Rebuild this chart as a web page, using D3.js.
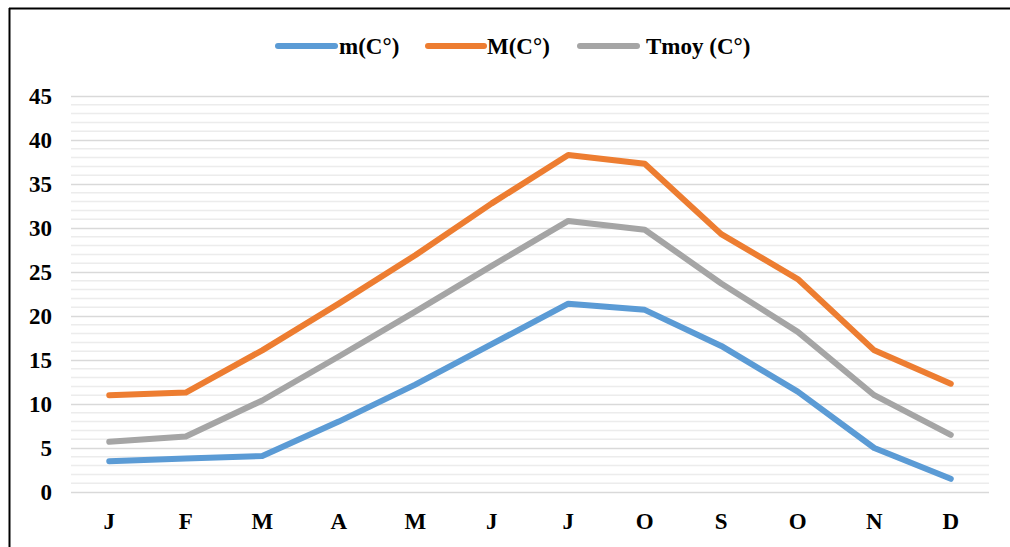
<!DOCTYPE html>
<html>
<head>
<meta charset="utf-8">
<script src="https://cdn.jsdelivr.net/npm/d3@7"></script>
<style>
  html, body { margin: 0; padding: 0; background: #fff; }
  svg { display: block; }
  text { font-family: "Liberation Serif", "Times New Roman", serif; font-weight: bold; fill: #000; }
</style>
</head>
<body>
<svg id="chart" width="1010" height="547"></svg>
<script>
// Months (French initials)
const months = ["J", "F", "M", "A", "M", "J", "J", "O", "S", "O", "N", "D"];

// Monthly temperatures (°C)
const tMin  = [3.5, 3.8, 4.1, 8.0, 12.2, 16.8, 21.4, 20.7, 16.6, 11.4, 5.0, 1.5];
const tMax  = [11.0, 11.3, 16.1, 21.4, 26.9, 32.8, 38.3, 37.3, 29.3, 24.2, 16.1, 12.3];
const tMoy  = [5.7, 6.3, 10.4, 15.4, 20.5, 25.7, 30.8, 29.8, 23.7, 18.2, 11.0, 6.5];

const seriesNames  = ["m(C°)", "M(C°)", "Tmoy (C°)"];
const seriesColors = ["#5B9BD5", "#ED7D31", "#A5A5A5"];
const yTicks = [0, 5, 10, 15, 20, 25, 30, 35, 40, 45];

const series = [
  { name: seriesNames[0], color: seriesColors[0], values: tMin },
  { name: seriesNames[1], color: seriesColors[1], values: tMax },
  { name: seriesNames[2], color: seriesColors[2], values: tMoy }
];

const svg = d3.select("#chart");
const plot = { left: 71, right: 989, top: 96, bottom: 492 };

// Frame (top and left edges are visible)
svg.append("line").attr("x1", 9).attr("x2", 1010).attr("y1", 8.5).attr("y2", 8.5)
  .attr("stroke", "#000").attr("stroke-width", 2);
svg.append("line").attr("x1", 9.5).attr("x2", 9.5).attr("y1", 8).attr("y2", 547)
  .attr("stroke", "#000").attr("stroke-width", 2);

const x = d3.scaleBand().domain(d3.range(months.length)).range([plot.left, plot.right]);
const y = d3.scaleLinear().domain([0, 45]).range([plot.bottom, plot.top]);

// Minor gridlines every 1 °C
svg.append("g").selectAll("line")
  .data(d3.range(0, 46).filter(v => v % 5 !== 0))
  .join("line")
  .attr("x1", plot.left).attr("x2", plot.right)
  .attr("y1", d => y(d)).attr("y2", d => y(d))
  .attr("stroke", "#ececec").attr("stroke-width", 1.5);

// Major gridlines + y axis labels
const yAxis = d3.axisLeft(y).tickValues(yTicks).tickSize(-(plot.right - plot.left)).tickPadding(19);
const gy = svg.append("g").attr("transform", `translate(${plot.left},0)`).call(yAxis);
gy.select(".domain").remove();
gy.selectAll(".tick line").attr("stroke", "#d9d9d9").attr("stroke-width", 1.5);
gy.selectAll(".tick text").attr("font-size", 23).attr("font-family", "Liberation Serif")
  .attr("font-weight", "bold").attr("fill", "#000");

// x axis labels
const xAxis = d3.axisBottom(x).tickFormat(i => months[i]).tickSize(0).tickPadding(21);
const gx = svg.append("g").attr("transform", `translate(0,${plot.bottom})`).call(xAxis);
gx.select(".domain").remove();
gx.selectAll(".tick text").attr("font-size", 23).attr("font-family", "Liberation Serif")
  .attr("font-weight", "bold").attr("fill", "#000");

// Series lines
const line = d3.line()
  .x((d, i) => x(i) + x.bandwidth() / 2)
  .y(d => y(d));

svg.append("g").selectAll("path")
  .data(series)
  .join("path")
  .attr("d", d => line(d.values))
  .attr("fill", "none")
  .attr("stroke", d => d.color)
  .attr("stroke-width", 6)
  .attr("stroke-linecap", "round")
  .attr("stroke-linejoin", "round");

// Legend
const legendItems = [
  { x1: 278, x2: 335, tx: 339 },
  { x1: 428, x2: 484, tx: 487 },
  { x1: 580, x2: 637, tx: 646 }
];
const legend = svg.append("g");
series.forEach((s, i) => {
  const L = legendItems[i];
  legend.append("line")
    .attr("x1", L.x1).attr("x2", L.x2).attr("y1", 46).attr("y2", 46)
    .attr("stroke", s.color).attr("stroke-width", 6).attr("stroke-linecap", "round");
  legend.append("text")
    .attr("x", L.tx).attr("y", 46).attr("dy", "0.35em")
    .attr("font-size", 23)
    .text(s.name);
});
</script>
</body>
</html>
